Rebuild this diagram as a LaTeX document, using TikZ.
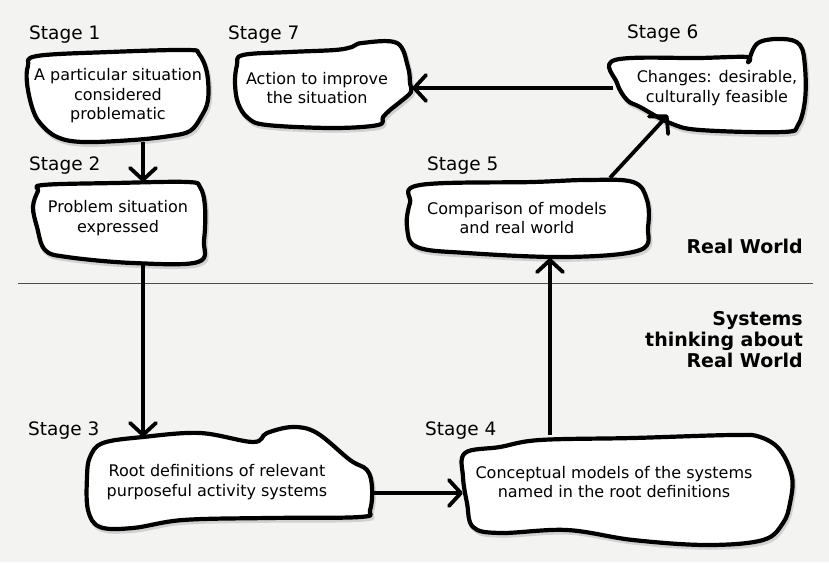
\documentclass[tikz,border=0pt]{standalone}
\usepackage{fontspec}
\setmainfont{DejaVu Sans}
\usetikzlibrary{arrows.meta}

\definecolor{paper}{RGB}{243,243,241}

\tikzset{blob/.style={line width=4.2pt, line join=round, fill=white,
                      preaction={draw=black!18, line width=4.5pt, transform canvas={shift={(1.5pt,-2.5pt)}}}}}
\tikzset{flow/.style={line width=3.8pt, -{Straight Barb[length=12pt,width=26pt,round]}}}
\tikzset{box/.style={inner sep=0pt, align=center, font=\fontsize{16}{19.5}\selectfont}}
\tikzset{stage/.style={anchor=base west, inner sep=0pt, font=\fontsize{18.5}{22}\selectfont}}
\tikzset{world/.style={anchor=east, inner sep=0pt, align=right, font=\bfseries\fontsize{19}{21}\selectfont}}

\begin{document}
\begin{tikzpicture}[x=1pt, y=-1pt]

\useasboundingbox (0,0) rectangle (829,562);
\fill[paper] (0,0) rectangle (829,562);

%boundary between the two worlds
\draw[line width=1pt, black!70] (18,283) -- (813,283);

%hand drawn outlines
\draw[blob] plot[smooth cycle, tension=0.6] coordinates {(37,56) (110,52) (187,50) (199,54) (207,73) (208,100) (201,117) (190,131) (170,136) (133,140) (83,142) (57,137) (40,123) (32,107) (27,83) (28,66)};
\draw[blob] plot[smooth cycle, tension=0.6] coordinates {(43,185) (115,183) (187,182) (200,187) (205,207) (204,240) (198,262) (133,263) (67,257) (45,250) (37,227) (33,207) (38,191)};
\draw[blob] plot[smooth cycle, tension=0.6] coordinates {(103,443) (143,437) (200,433) (253,442) (267,433) (293,427) (317,433) (350,460) (367,470) (372,487) (370,510) (360,517) (267,518) (183,520) (133,528) (100,527) (88,510) (87,477) (90,457)};
\draw[blob] plot[smooth cycle, tension=0.6] coordinates {(465,453) (500,447) (540,440) (633,438) (733,435) (760,437) (780,450) (792,477) (790,503) (783,523) (763,540) (707,545) (633,540) (567,530) (500,533) (473,527) (467,503) (463,477)};
\draw[blob] plot[smooth cycle, tension=0.6] coordinates {(420,185) (533,182) (587,180) (633,182) (647,200) (648,227) (640,250) (567,257) (467,253) (417,247) (407,227) (410,203)};
\draw[blob] plot[smooth cycle, tension=0.6] coordinates {(615,60) (700,58) (747,57) (748,62) (758,43) (783,39) (800,45) (805,67) (805,100) (798,125) (783,132) (700,130) (670,123) (640,107) (627,100) (617,83)};
\draw[blob] plot[smooth cycle, tension=0.6] coordinates {(243,55) (290,52) (335,50) (352,47) (362,43) (397,43) (408,67) (410,83) (411,92) (400,102) (390,110) (383,117) (378,125) (333,128) (267,125) (248,118) (238,103) (235,83) (237,65)};

%stages
\node[box, minimum width=183pt, minimum height=92pt] (s1) at (118,96) {A particular situation\\considered\\problematic};
\node[box, minimum width=172pt, minimum height=72pt] (s2) at (118,218) {Problem situation\\expressed};
\node[box, minimum width=310pt, minimum height=90pt] (s3) at (217,482) {Root definitions of relevant\\purposeful activity systems};
\node[box, minimum width=302pt, minimum height=94pt] (s4) at (614,482) {Conceptual models of the systems\\named in the root definitions};
\node[box, minimum width=262pt, minimum height=80pt] (s5) at (517,218) {Comparison of models\\and real world};
\node[box, minimum width=208pt, minimum height=75pt] (s6) at (717,88) {Changes: desirable,\\culturally feasible};
\node[box, minimum width=190pt, minimum height=80pt] (s7) at (317,88) {Action to improve\\the situation};

\node[stage] (st1) at (29,39) {Stage 1};
\node[stage] (st2) at (29,170) {Stage 2};
\node[stage] (st3) at (28,435) {Stage 3};
\node[stage] (st4) at (425,435) {Stage 4};
\node[stage] (st5) at (427,170) {Stage 5};
\node[stage] (st6) at (627,38) {Stage 6};
\node[stage] (st7) at (228,39) {Stage 7};

\node[world, anchor=base east] (rw) at (803,253) {Real World};
\node[world] (stw) at (803,340) {Systems\\thinking about\\Real World};

%connectors
\draw[flow] ([xshift=25pt]s1.south) -- ([xshift=25pt]s2.north);
\draw[flow] ([xshift=25pt,yshift=-9pt]s2.south) -- ([xshift=-74pt]s3.north);
\draw[flow] ([yshift=-11pt]s3.east) -- ([yshift=-11pt]s4.west);
\draw[flow] ([xshift=-64pt]s4.north) -- ([xshift=33pt]s5.south);
\draw[flow] ([xshift=93pt]s5.north) -- ([xshift=-49pt,yshift=-27pt]s6.center);
\draw[flow] (s6.west) -- (s7.east);

\end{tikzpicture}
\end{document}
